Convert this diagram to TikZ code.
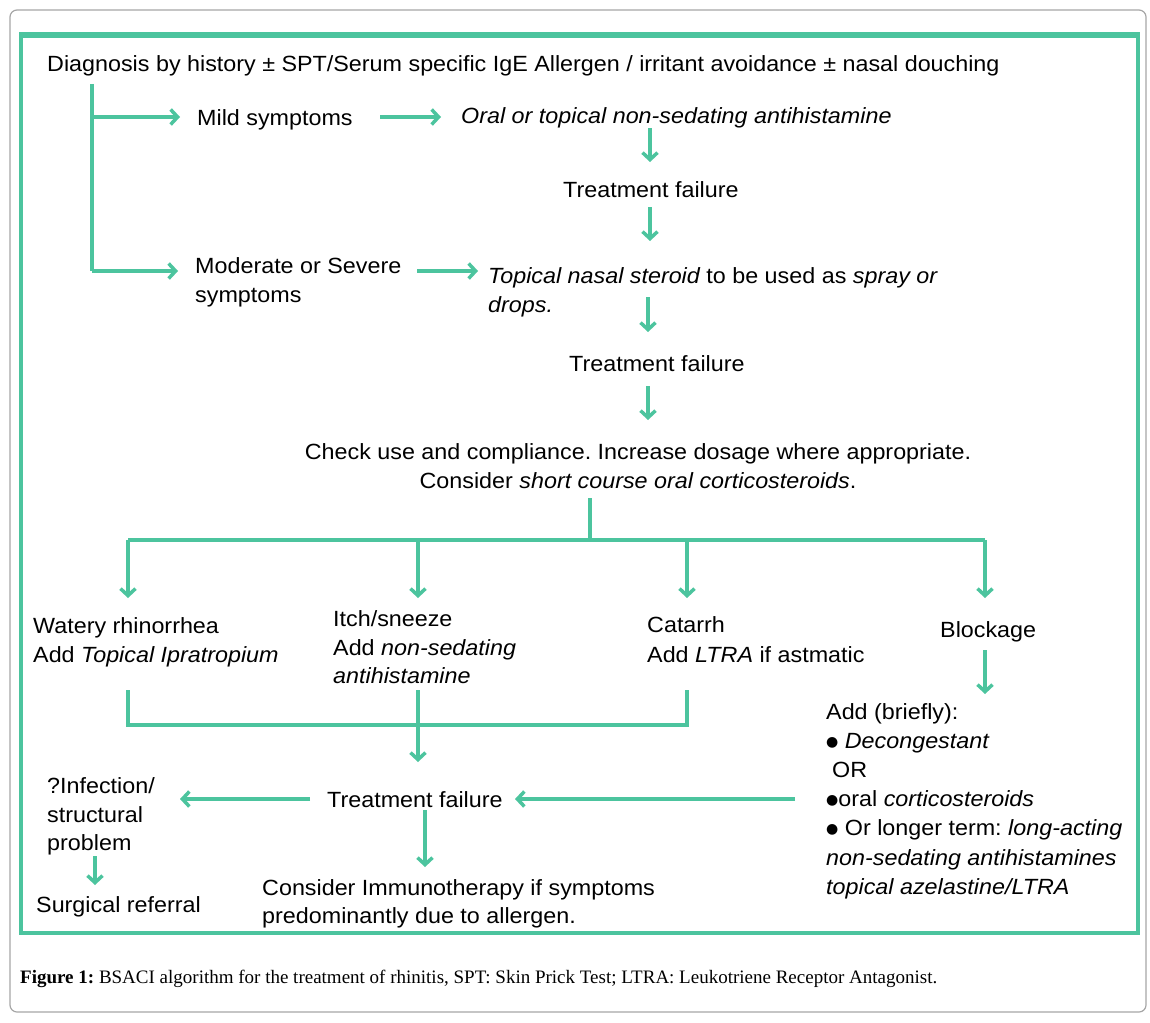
\documentclass[tikz,border=0pt]{standalone}
\usepackage{fontspec}
\setmainfont{Liberation Serif}
\setsansfont{Liberation Sans}
\newfontfamily\diag{Liberation Sans}[FakeStretch=1.06]
\newfontfamily\dejav{DejaVu Sans}
\usetikzlibrary{arrows.meta}
\definecolor{grn}{RGB}{76,196,158}
\newcommand{\bul}{\raisebox{1.5pt}{\dejav\fontsize{14}{14}\selectfont ●}}
\frenchspacing
\begin{document}
\begin{tikzpicture}[x=1pt,y=-1pt,
  txt/.style={anchor=base west,inner sep=0pt,font=\diag\fontsize{22}{29}\selectfont},
  ctxt/.style={anchor=base,inner sep=0pt,font=\diag\fontsize{22}{29}\selectfont,align=center},
  ln/.style={draw=grn,line width=4pt},
  arr/.style={draw=grn,line width=4pt,-{Straight Barb[length=7pt,width=15pt,line width=3.5pt]}}]
\useasboundingbox (0,0) rectangle (1150,1022);
% frames
\draw[gray!70,line width=1.2pt,rounded corners=7pt] (10,10) rectangle (1146,1012);
\draw[grn,line width=4pt] (21,36) rectangle (1138,933);
\draw[grn,line width=6pt] (19,35) -- (1140,35);
% texts
\node[txt] (title) at (47,72) {Diagnosis by history ± SPT/Serum specific IgE Allergen / irritant avoidance ± nasal douching};
\node[txt] (mild) at (197,125) {Mild symptoms};
\node[txt] (oral) at (461,124) {\itshape Oral or topical non-sedating antihistamine};
\node[txt] (tf1) at (563,197) {Treatment failure};
\node[txt] (mod1) at (195,273) {Moderate or Severe};
\node[txt] (mod2) at (195,302) {symptoms};
\node[txt] (top1) at (488,283) {\itshape Topical nasal steroid\upshape\ to be used as \itshape spray or};
\node[txt] (top2) at (488,312) {\itshape drops.};
\node[txt] (tf2) at (569,371) {Treatment failure};
\node[ctxt] (chk1) at (638,459) {Check use and compliance. Increase dosage where appropriate.};
\node[ctxt] (chk2) at (638,488) {Consider \itshape short course oral corticosteroids\upshape.};
\node[txt] (wat1) at (33,633) {Watery rhinorrhea};
\node[txt] (wat2) at (33,662) {Add \itshape Topical Ipratropium};
\node[txt] (itc1) at (333,626) {Itch/sneeze};
\node[txt] (itc2) at (333,655) {Add \itshape non-sedating};
\node[txt] (itc3) at (333,683) {\itshape antihistamine};
\node[txt] (cat1) at (647,632) {Catarrh};
\node[txt] (cat2) at (647,662) {Add \itshape LTRA\upshape\ if astmatic};
\node[txt] (blk) at (940,637) {Blockage};
\node[txt] (add1) at (826,719) {Add (briefly):};
\node[txt] (add2) at (826,748) {\bul\ \itshape Decongestant};
\node[txt] (add3) at (832,777) {OR};
\node[txt] (add4) at (826,806) {\bul oral \itshape corticosteroids};
\node[txt] (add5) at (826,835) {\bul\ Or longer term: \itshape long-acting};
\node[txt] (add6) at (826,865) {\itshape non-sedating antihistamines};
\node[txt] (add7) at (826,894) {\itshape topical azelastine/LTRA};
\node[txt] (tf3) at (327,807) {Treatment failure};
\node[txt] (inf1) at (47,793) {?Infection/};
\node[txt] (inf2) at (47,822) {structural};
\node[txt] (inf3) at (47,850) {problem};
\node[txt] (surg) at (36,912) {Surgical referral};
\node[txt] (imm1) at (262,895) {Consider Immunotherapy if symptoms};
\node[txt] (imm2) at (262,923) {predominantly due to allergen.};
\node[anchor=base west,inner sep=0pt,font=\fontsize{19}{22}\selectfont] (cap) at (20,983) {\textbf{Figure 1:} BSACI algorithm for the treatment of rhinitis, SPT: Skin Prick Test; LTRA: Leukotriene Receptor Antagonist.};
% coordinates
\coordinate (v0) at (92,84);
\coordinate (v1) at (92,117);
\coordinate (v2) at (92,271);
\coordinate (m0) at (180,117);
\coordinate (s0) at (178,271);
\coordinate (ma) at (380,117);
\coordinate (mb) at (441,117);
\coordinate (o1) at (650,128);
\coordinate (o2) at (650,162);
\coordinate (t1) at (650,207);
\coordinate (t2) at (650,241);
\coordinate (sa) at (417,271);
\coordinate (sb) at (478,271);
\coordinate (p1) at (648,297);
\coordinate (p2) at (648,332);
\coordinate (q1) at (648,386);
\coordinate (q2) at (648,420);
\coordinate (c0) at (590,498);
\coordinate (c1) at (590,540);
\coordinate (hL) at (128,540);
\coordinate (hA) at (418,540);
\coordinate (hB) at (687,540);
\coordinate (hR) at (985,540);
\coordinate (dL) at (128,598);
\coordinate (dA) at (418,598);
\coordinate (dB) at (687,598);
\coordinate (dR) at (985,598);
\coordinate (b1) at (985,650);
\coordinate (b2) at (985,694);
\coordinate (u1) at (128,690);
\coordinate (u2) at (418,690);
\coordinate (u3) at (687,690);
\coordinate (w1) at (128,725);
\coordinate (w2) at (418,725);
\coordinate (w3) at (687,725);
\coordinate (w4) at (418,762);
\coordinate (r1) at (795,799);
\coordinate (r2) at (515,799);
\coordinate (l1) at (310,799);
\coordinate (l2) at (180,799);
\coordinate (g1) at (95,856);
\coordinate (g2) at (95,885);
\coordinate (i1) at (425,810);
\coordinate (i2) at (425,867);
% connectors
\draw[ln] (v0) -- (v2);
\draw[arr] (v1) -- (m0);
\draw[arr] (v2) -- (s0);
\draw[arr] (ma) -- (mb);
\draw[arr] (o1) -- (o2);
\draw[arr] (t1) -- (t2);
\draw[arr] (sa) -- (sb);
\draw[arr] (p1) -- (p2);
\draw[arr] (q1) -- (q2);
\draw[ln] (c0) -- (c1);
\draw[ln] (hL) -- (hR);
\draw[arr] (hL) -- (dL);
\draw[arr] (hA) -- (dA);
\draw[arr] (hB) -- (dB);
\draw[arr] (hR) -- (dR);
\draw[arr] (b1) -- (b2);
\draw[ln] (u1) -- (w1) -- (w3) -- (u3);
\draw[ln] (u2) -- (w2);
\draw[arr] (w2) -- (w4);
\draw[arr] (r1) -- (r2);
\draw[arr] (l1) -- (l2);
\draw[arr] (g1) -- (g2);
\draw[arr] (i1) -- (i2);
\end{tikzpicture}
\end{document}
